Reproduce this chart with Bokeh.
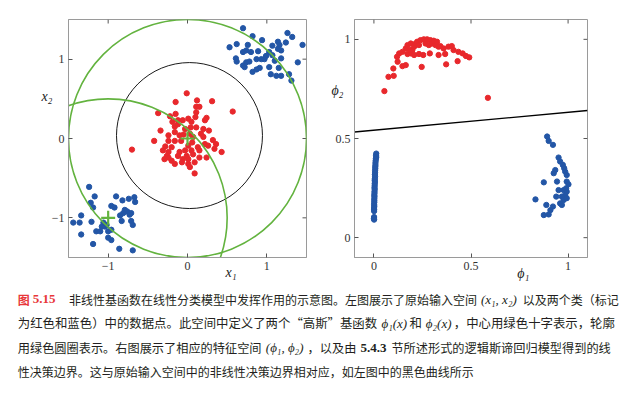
import math
from bokeh.plotting import figure
from bokeh.models import Range1d, LinearAxis, FixedTicker
from bokeh.layouts import column, row
from bokeh.embed import file_html
from bokeh.resources import INLINE
from bokeh.core.properties import value

# ---------------- data ----------------
# left panel: original input space (x1, x2)
red_x1 = [-0.01, -0.15, 0.12, 0.31, -0.37, -0.15, 0.11, 0.11, -0.22, 0.01, -0.12, 0.10, 0.24, 0.22,
          -0.06, 0.05, -0.16, -0.03, -0.34, 0.20, 0.11, -0.16, 0.03, -0.24, -0.10, 0.17, -0.42, -0.24,
          -0.16, -0.08, 0.07, 0.32, 0.36, 0.22, 0.26, -0.70, -0.20, 0.01, 0.13, -0.03, -0.10, 0.05,
          0.15, 0.43, -0.24, -0.26, -0.12, -0.01, 0.07, -0.29, -0.20, -0.06, 0.01, 0.15, 0.24, -0.16,
          0.01, 0.09, 0.03, 0.09, -0.24, 0.34, -0.31, 0.57, 0.15, -0.05, 0.06, -0.12, 0.20, -0.28,
          0.04, -0.19, 0.27, -0.07]
red_x2 = [0.57, 0.46, 0.48, 0.47, 0.32, 0.31, 0.40, 0.33, 0.28, 0.25, 0.23, 0.27, 0.26, 0.23,
          0.23, 0.21, 0.15, 0.12, 0.10, 0.12, 0.14, 0.08, 0.06, 0.04, 0.04, 0.06, -0.03, -0.03,
          -0.03, -0.03, 0.02, -0.02, -0.07, -0.07, -0.09, -0.14, -0.11, -0.09, -0.11, -0.15, -0.17, -0.15,
          -0.15, -0.17, -0.17, -0.22, -0.22, -0.22, -0.20, -0.26, -0.28, -0.26, -0.26, -0.24, -0.24, -0.32,
          -0.32, -0.30, -0.36, -0.44, -0.24, -0.13, -0.15, 0.34, 0.40, 0.05, -0.05, 0.18, 0.02, -0.10,
          0.14, 0.21, 0.10, -0.30]

blue_x1 = [0.70, 0.82, 0.94, 1.26, 1.32, 0.53, 0.62, 0.76, 0.74, 0.70, 0.80, 0.89, 1.07, 1.14,
           1.16, 1.14, 1.18, 1.24, 1.03, 0.61, 0.62, 0.87, 0.93, 0.97, 0.99, 1.07, 1.10, 1.18,
           0.74, 0.70, 0.78, 1.39, 0.72, 0.91, 0.87, 1.03, 1.15, 0.82, 1.05, 1.12, 1.18, 1.28,
           1.31, 1.45,
           -1.24, -1.17, -0.90, -0.74, -0.67, -0.66, -1.22, -1.19, -0.96, -0.92, -0.82, -0.79, -0.76,
           -0.71, -0.81, -0.85, -0.73, -1.34, -1.44, -1.36, -1.21, -0.83, -0.71, -0.69, -1.06, -1.08,
           -1.04, -1.02, -1.15, -1.10, -1.00, -0.96, -1.34, -1.00, -0.96, -1.19, -0.86, -0.69]
blue_x2 = [1.39, 1.29, 1.24, 1.33, 1.28, 1.15, 1.19, 1.18, 1.11, 1.09, 1.09, 1.10, 1.17, 1.22,
           1.18, 1.13, 1.11, 1.21, 1.09, 1.01, 0.97, 1.00, 1.00, 1.00, 1.04, 1.05, 0.98, 1.01,
           0.96, 0.92, 0.97, 0.96, 0.90, 0.89, 0.87, 0.90, 0.89, 0.84, 0.81, 0.79, 0.79, 0.81,
           0.73, 1.18,
           -0.61, -0.73, -0.73, -0.76, -0.74, -0.80, -0.81, -0.87, -0.85, -0.87, -0.78, -0.90, -0.92,
           -0.94, -0.94, -0.97, -0.96, -0.97, -1.06, -1.06, -1.05, -1.04, -1.04, -1.09, -1.06, -1.11,
           -1.11, -1.09, -1.17, -1.17, -1.17, -1.15, -1.21, -1.25, -1.28, -1.33, -1.39, -1.41]

# Gaussian basis centres and contour radii (green)
centre_x1 = [-1.0, 0.0]
centre_x2 = [-1.0, 0.0]
contour_r = [1.5, 1.5]

# nonlinear decision boundary in input space (black curve, close to a circle)
boundary_cx, boundary_cy, boundary_r = 0.025, 0.037, 0.92

# right panel: feature space (phi1, phi2)
red_phi1 = [0.054, 0.075, 0.102, 0.100, 0.122, 0.119, 0.130, 0.147, 0.164, 0.173, 0.164, 0.173, 0.190,
            0.198, 0.190, 0.207, 0.215, 0.223, 0.232, 0.240, 0.257, 0.266, 0.274, 0.283, 0.291, 0.299,
            0.308, 0.317, 0.325, 0.333, 0.232, 0.254, 0.246, 0.288, 0.333, 0.342, 0.359, 0.367, 0.372,
            0.384, 0.401, 0.410, 0.431, 0.435, 0.457, 0.474, 0.491, 0.587, 0.207, 0.186, 0.147]
red_phi2 = [0.739, 0.811, 0.816, 0.853, 0.887, 0.912, 0.929, 0.865, 0.870, 0.926, 0.954, 0.971, 0.979,
            0.946, 0.929, 0.963, 0.979, 0.988, 0.971, 0.996, 1.000, 0.979, 1.000, 0.971, 0.996, 0.979,
            0.993, 0.971, 0.988, 0.963, 0.926, 0.921, 0.861, 0.929, 0.921, 0.966, 0.954, 0.926, 0.874,
            0.963, 0.966, 0.946, 0.890, 0.937, 0.929, 0.916, 0.909, 0.705, 0.921, 0.946, 0.937]

blue_phi1 = [0.892, 0.900, 0.922, 0.951, 0.959, 0.973, 0.980, 0.985, 0.993, 0.934, 0.926, 0.943, 0.875,
             0.993, 1.002, 0.951, 0.977, 0.993, 0.985, 0.968, 0.977, 0.959, 0.993, 0.968, 0.832, 0.888,
             0.922, 0.909, 0.900, 0.875, 0.939, 0.990,
             0.012, 0.011, 0.012, 0.010, 0.009, 0.008, 0.008, 0.007, 0.007, 0.006, 0.006, 0.005, 0.006,
             0.005, 0.004, 0.005, 0.004, 0.004, 0.003, 0.004, 0.003, 0.003, 0.002, 0.003, 0.002, 0.002,
             0.002, 0.001, 0.002, 0.001, 0.001, 0.001, 0.001, 0.000, 0.001]
blue_phi2 = [0.510, 0.488, 0.468, 0.404, 0.384, 0.367, 0.350, 0.333, 0.316, 0.341, 0.325, 0.283, 0.279,
             0.283, 0.269, 0.240, 0.240, 0.232, 0.215, 0.207, 0.190, 0.173, 0.199, 0.165, 0.193, 0.165,
             0.157, 0.139, 0.117, 0.114, 0.207, 0.249,
             0.424, 0.415, 0.406, 0.398, 0.388, 0.377, 0.366, 0.357, 0.348, 0.338, 0.327, 0.318, 0.309,
             0.298, 0.290, 0.281, 0.272, 0.262, 0.252, 0.244, 0.233, 0.224, 0.214, 0.206, 0.196, 0.187,
             0.178, 0.168, 0.159, 0.150, 0.142, 0.134, 0.104, 0.097, 0.091]

# linear decision boundary in feature space
line_phi1 = [-0.1, 1.1]
line_phi2 = [0.533, 0.641]

left_ticks = [-1, 0, 1]
left_tick_labels = {-1: "\u22121", 0: "0", 1: "1"}
right_ticks = [0, 0.5, 1]
right_tick_labels = {0: "0", 0.5: "0.5", 1: "1"}

# axis-title texts and where along each axis they sit (data units)
left_xlabel, left_xlabel_at = "x\u2081", 0.55
left_ylabel, left_ylabel_at = "x\u2082", 0.53
right_xlabel, right_xlabel_at = "\u03d5\u2081", 0.77
right_ylabel, right_ylabel_at = "\u03d5\u2082", 0.74

# caption segments: (text, style)
caption_lines = [
    [("图", "redcjk"), ("5.15", "rednum"),
     ("非线性基函数在线性分类模型中发挥作用的示意图。左图展示了原始输入空间", "cjk"),
     ("(x\u2081, x\u2082)", "math"), ("以及两个类（标记", "cjk")],
    [("为红色和蓝色）中的数据点。此空间中定义了两个“高斯”基函数", "cjk"),
     ("\u03d5\u2081(x)", "math"), ("和", "cjk"), ("\u03d5\u2082(x)", "math"),
     ("，中心用绿色十字表示，轮廓", "cjk")],
    [("用绿色圆圈表示。右图展示了相应的特征空间", "cjk"), ("(\u03d5\u2081, \u03d5\u2082)", "math"),
     ("，以及由", "cjk"), ("5.4.3", "num"), ("节所述形式的逻辑斯谛回归模型得到的线", "cjk")],
    [("性决策边界。这与原始输入空间中的非线性决策边界相对应，如左图中的黑色曲线所示", "cjk")],
]

# ---------------- styling ----------------
RED = "#e8282c"
BLUE = "#2356a6"
GREEN = "#63b33f"
SERIF = "Liberation Serif"
CJK = "Noto Sans CJK SC"
AX = "#9a9a9a"
TICK = "#555555"


def style_axis(ax, ticks, labels):
    ax.ticker = FixedTicker(ticks=ticks)
    ax.major_tick_in = 4
    ax.major_tick_out = 0
    ax.minor_tick_in = 0
    ax.minor_tick_out = 0
    ax.axis_line_color = AX
    ax.major_tick_line_color = TICK
    ax.major_label_text_font = SERIF
    ax.major_label_text_color = "#333333"
    ax.major_label_overrides = labels
    ax.major_label_text_font_size = "12px"
    ax.major_label_standoff = 4


def title_axis(p, side, at, text, standoff):
    ax = LinearAxis(ticker=FixedTicker(ticks=[at]), major_label_overrides={at: text})
    ax.major_tick_in = 0
    ax.major_tick_out = 0
    ax.minor_tick_in = 0
    ax.minor_tick_out = 0
    ax.axis_line_color = None
    ax.major_label_text_font = SERIF
    ax.major_label_text_font_style = "italic"
    ax.major_label_text_font_size = "14px"
    ax.major_label_text_color = "#222222"
    ax.major_label_standoff = standoff
    p.add_layout(ax, side)


def make_panel(width, bl, br, xr, yr, ticks, labels):
    p = figure(width=width, height=287, x_range=Range1d(*xr), y_range=Range1d(*yr),
               min_border_left=bl, min_border_right=br, min_border_top=19, min_border_bottom=30,
               output_backend="svg", toolbar_location=None)
    p.grid.visible = False
    p.outline_line_color = AX
    style_axis(p.xaxis[0], ticks, labels)
    style_axis(p.yaxis[0], ticks, labels)
    # inward tick marks on the top and right edges of the box
    n = len(ticks)
    p.ray(x=ticks, y=[yr[1]] * n, length=4, length_units="screen", angle=-math.pi / 2,
          line_color=TICK, line_width=1)
    p.ray(x=[xr[1]] * n, y=ticks, length=4, length_units="screen", angle=math.pi,
          line_color=TICK, line_width=1)
    return p


# ---------------- left panel ----------------
p1 = make_panel(328, 68, 22, (-1.5, 1.5), (-1.5, 1.5), left_ticks, left_tick_labels)
p1.scatter(red_x1, red_x2, size=5.3, color=RED)
p1.scatter(blue_x1, blue_x2, size=5.3, color=BLUE)
p1.circle(x=[boundary_cx], y=[boundary_cy], radius=boundary_r, fill_color=None,
          line_color="black", line_width=0.9)
p1.circle(x=centre_x1, y=centre_x2, radius=contour_r, fill_color=None,
          line_color=GREEN, line_width=1.6)
p1.scatter(centre_x1, centre_x2, marker="cross", size=14, line_width=2.2, color=GREEN)
title_axis(p1, "below", left_xlabel_at, left_xlabel, -8)
title_axis(p1, "left", left_ylabel_at, left_ylabel, -4)

# ---------------- right panel ----------------
p2 = make_panel(297, 21, 38, (-0.1, 1.1), (-0.1, 1.1), right_ticks, right_tick_labels)
p2.scatter(red_phi1, red_phi2, size=5.3, color=RED)
p2.scatter(blue_phi1, blue_phi2, size=5.3, color=BLUE)
p2.line(line_phi1, line_phi2, line_color="black", line_width=1.4)
title_axis(p2, "below", right_xlabel_at, right_xlabel, -7)
title_axis(p2, "left", right_ylabel_at, right_ylabel, -11)

# ---------------- caption ----------------
p3 = figure(width=630, height=96, x_range=Range1d(0, 630), y_range=Range1d(383, 287),
            min_border=0, x_axis_location=None, y_axis_location=None,
            output_backend="svg", toolbar_location=None)
p3.grid.visible = False
p3.outline_line_color = None

line_fs = [12.0, 12.4, 12.2, 12.0]
line_y = [298.5, 322.5, 347, 371]
gaps = {"redcjk": 3, "rednum": 13, "cjk": 4, "math": 5, "num": 5}


def seg_width(text, st, fs):
    if st in ("cjk", "redcjk"):
        return len(text) * fs
    return len(text) * {"math": 4.6, "num": 5.2, "rednum": 5.8}[st]


groups = {}
for li, segs in enumerate(caption_lines):
    x = 17.3
    fs = line_fs[li]
    for text, st in segs:
        key = (st, fs)
        groups.setdefault(key, {"x": [], "y": [], "t": []})
        groups[key]["x"].append(x)
        groups[key]["y"].append(line_y[li])
        groups[key]["t"].append(text)
        x += seg_width(text, st, fs) + gaps[st]

for (st, fs), d in groups.items():
    if st == "cjk":
        kw = dict(text_font=value(CJK), text_font_size=f"{fs}px", text_color="#231f20")
    elif st == "redcjk":
        kw = dict(text_font=value(CJK), text_font_size=f"{fs}px", text_color="#e8373a",
                  text_font_style="bold")
    elif st == "math":
        kw = dict(text_font=value(SERIF), text_font_size="13px", text_color="#231f20",
                  text_font_style="italic")
    elif st == "num":
        kw = dict(text_font=value(SERIF), text_font_size="13px", text_color="#231f20",
                  text_font_style="bold")
    else:
        kw = dict(text_font=value(SERIF), text_font_size="13px", text_color="#e8373a",
                  text_font_style="bold")
    p3.text(x=d["x"], y=d["y"], text=d["t"], text_align="left", text_baseline="middle", **kw)

layout = column(row(p1, p2), p3)
open("out.html", "w").write(file_html(layout, INLINE))
